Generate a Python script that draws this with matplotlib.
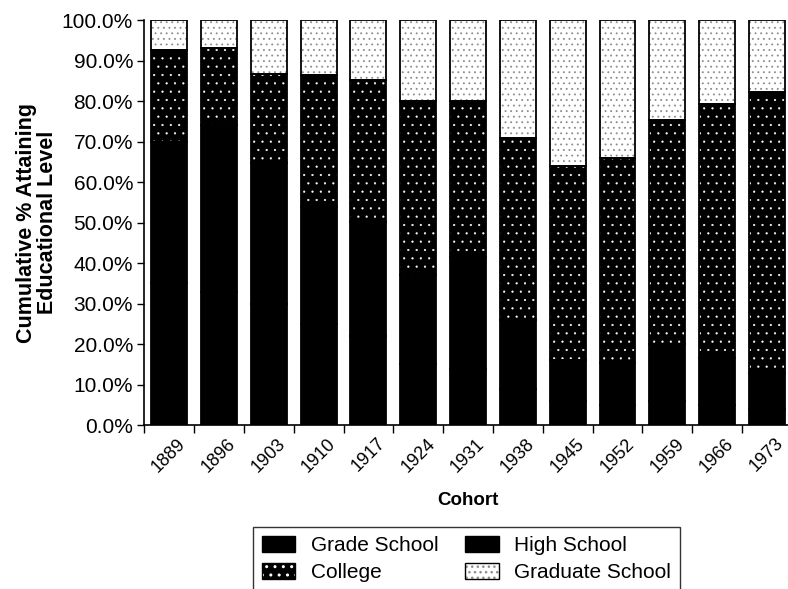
import numpy as np
import matplotlib
matplotlib.use("Agg")
import matplotlib.pyplot as plt
from matplotlib.patches import Patch
from matplotlib.ticker import FuncFormatter, FixedLocator

# Share of each birth cohort (percent) by highest educational level attained
cohorts = ["1889", "1896", "1903", "1910", "1917", "1924", "1931",
           "1938", "1945", "1952", "1959", "1966", "1973"]
grade_school = [35.0, 33.0, 30.0, 25.0, 22.0, 15.0, 14.0, 9.0, 6.0, 5.0, 6.0, 5.0, 4.0]
high_school = [35.0, 41.0, 34.7, 28.9, 28.2, 22.0, 27.6, 17.0, 10.0, 10.3, 14.0, 11.5, 8.8]
college = [22.6, 19.2, 22.0, 32.5, 35.0, 43.1, 38.5, 45.0, 48.0, 50.7, 55.3, 62.8, 69.4]
graduate_school = [7.4, 6.8, 13.3, 13.6, 14.8, 19.9, 19.9, 29.0, 36.0, 34.0, 24.7, 20.7, 17.8]

plt.rcParams["font.family"] = ["Liberation Sans", "DejaVu Sans"]

fig = plt.figure(figsize=(7.88, 5.89), dpi=100)
ax = fig.add_axes([0.183, 0.278, 0.822, 0.688])

x = np.arange(len(cohorts))
width = 0.72

# (values, face colour, hatch, hatch colour, hatch line width, label)
layers = [
    (grade_school, "black", None, "black", 0.5, "Grade School"),
    (high_school, "black", None, "black", 0.5, "High School"),
    (college, "black", "..", "white", 0.35, "College"),
    (graduate_school, "white", "...", "#8c8c8c", 0.6, "Graduate School"),
]

bottom = np.zeros(len(cohorts))
handles = {}
for vals, face, hatch, hcol, hlw, label in layers:
    vals = np.asarray(vals)
    with plt.rc_context({"hatch.linewidth": hlw}):
        ax.bar(x, vals, width, bottom=bottom, color=face, edgecolor=hcol,
               hatch=hatch, linewidth=0, zorder=2)
        h_fill = Patch(facecolor=face, edgecolor=hcol, hatch=hatch, linewidth=0)
    ax.bar(x, vals, width, bottom=bottom, fill=False, edgecolor="black",
           linewidth=1.3, zorder=3)
    bottom += vals
    h_edge = Patch(fill=False, edgecolor="black", linewidth=1.0)
    handles[label] = (h_fill, h_edge)

ax.set_xlim(-0.5, len(cohorts) - 0.5)
ax.set_ylim(0, 100)

ax.yaxis.set_major_locator(FixedLocator(np.arange(0, 101, 10)))
ax.yaxis.set_major_formatter(FuncFormatter(lambda v, _: f"{v:.1f}%"))
ax.tick_params(axis="y", direction="out", length=5, width=1, labelsize=15, pad=3)

ax.set_xticks(x)
ax.set_xticklabels(cohorts, rotation=45, ha="center", fontsize=13)
ax.set_xticks(np.arange(-0.5, len(cohorts)), minor=True)
ax.tick_params(axis="x", which="major", length=0, pad=7)
ax.tick_params(axis="x", which="minor", direction="out", length=6, width=1)

for side in ("top", "right"):
    ax.spines[side].set_visible(False)
for side in ("left", "bottom"):
    ax.spines[side].set_linewidth(1.2)

ax.set_xlabel("Cohort", fontsize=13.5, fontweight="bold", labelpad=12)
ax.set_ylabel("Cumulative % Attaining\nEducational Level", fontsize=15.5,
              fontweight="bold", labelpad=3, linespacing=1.0)

order = ["Grade School", "College", "High School", "Graduate School"]
leg = fig.legend([handles[k] for k in order], order, ncol=2,
                 loc="upper center", bbox_to_anchor=(0.592, 1 - 517 / 589),
                 bbox_transform=fig.transFigure, fontsize=15,
                 frameon=True, fancybox=False, edgecolor="black",
                 handlelength=1.6, handleheight=0.8, handletextpad=0.75,
                 columnspacing=1.3, labelspacing=0.4, borderpad=0.4)
leg.get_frame().set_linewidth(1.0)

fig.savefig("out.png", dpi=100, facecolor="white")
